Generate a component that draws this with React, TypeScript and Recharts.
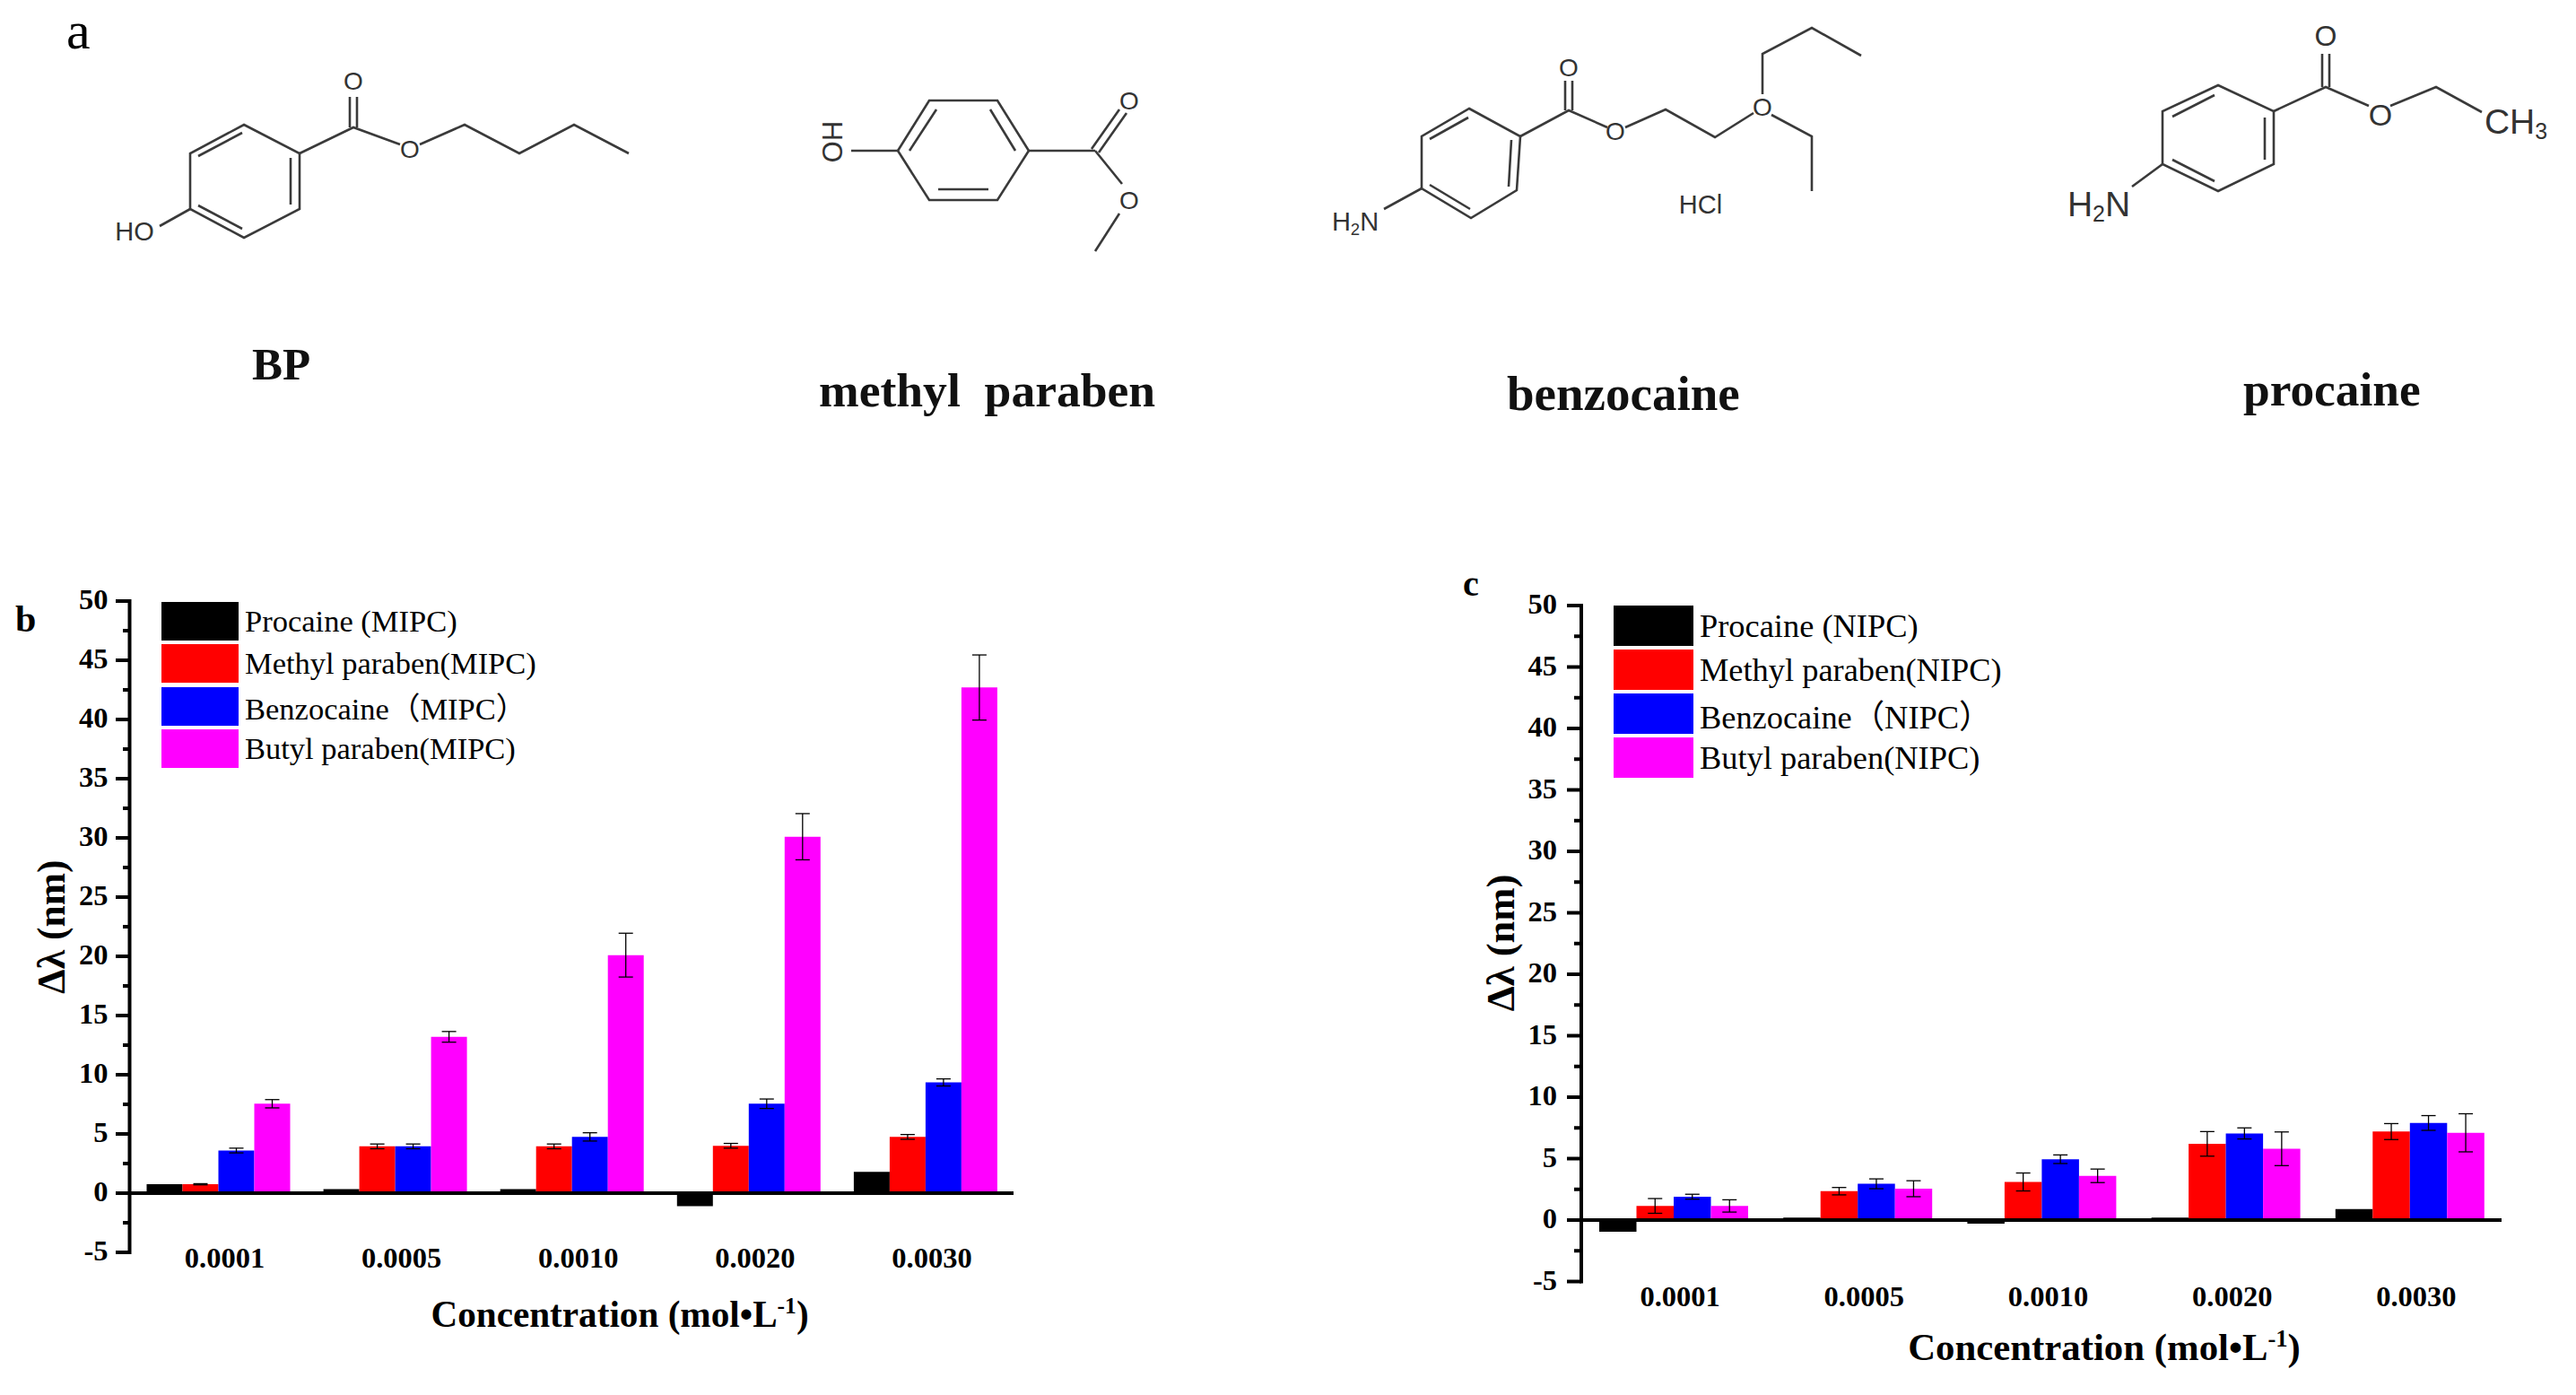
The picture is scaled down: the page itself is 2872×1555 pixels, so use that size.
import React from "react";
import { BarChart, Bar, XAxis, YAxis, ErrorBar, Legend, ReferenceLine } from "recharts";

const concentrations = ["0.0001", "0.0005", "0.0010", "0.0020", "0.0030"];
const yTicks = [-5, -2.5, 0, 2.5, 5, 7.5, 10, 12.5, 15, 17.5, 20, 22.5, 25, 27.5, 30, 32.5, 35, 37.5, 40, 42.5, 45, 47.5, 50];
const seriesColors = ["#000000", "#ff0000", "#0000ff", "#ff00ff"];

const mipcNames = ["Procaine (MIPC)", "Methyl paraben(MIPC)", "Benzocaine（MIPC）", "Butyl paraben(MIPC)"];
const mipcProcaine = [0.75, 0.35, 0.35, -1.1, 1.8];
const mipcMethyl = [0.75, 3.95, 3.95, 4.0, 4.75];
const mipcBenzocaine = [3.6, 3.95, 4.75, 7.55, 9.35];
const mipcButyl = [7.55, 13.2, 20.1, 30.1, 42.7];
const mipcMethylErr = [0.05, 0.2, 0.2, 0.2, 0.2];
const mipcBenzocaineErr = [0.2, 0.2, 0.35, 0.4, 0.3];
const mipcButylErr = [0.35, 0.45, 1.85, 1.95, 2.75];

const nipcNames = ["Procaine (NIPC)", "Methyl paraben(NIPC)", "Benzocaine（NIPC）", "Butyl paraben(NIPC)"];
const nipcProcaine = [-0.95, 0.2, -0.3, 0.2, 0.9];
const nipcMethyl = [1.15, 2.35, 3.1, 6.2, 7.2];
const nipcBenzocaine = [1.9, 2.95, 4.95, 7.05, 7.9];
const nipcButyl = [1.15, 2.55, 3.6, 5.8, 7.1];
const nipcMethylErr = [0.6, 0.3, 0.73, 1.0, 0.65];
const nipcBenzocaineErr = [0.2, 0.4, 0.35, 0.45, 0.6];
const nipcButylErr = [0.5, 0.65, 0.55, 1.37, 1.55];

const serif = '"Liberation Serif", "Noto Sans CJK SC", serif';
const sans = '"Liberation Sans", sans-serif';

function table(values: number[][], errors: (number[] | null)[]) {
  return concentrations.map((c, i) => {
    const row: any = { c };
    values.forEach((v, s) => {
      row["s" + s] = v[i];
      const e = errors[s];
      if (e) row["e" + s] = e[i];
    });
    return row;
  });
}

const mipcData = table([mipcProcaine, mipcMethyl, mipcBenzocaine, mipcButyl], [null, mipcMethylErr, mipcBenzocaineErr, mipcButylErr]);
const nipcData = table([nipcProcaine, nipcMethyl, nipcBenzocaine, nipcButyl], [null, nipcMethylErr, nipcBenzocaineErr, nipcButylErr]);

function Panel(p: any) {
  const yTick = (t: any) => {
    const v = t.payload.value;
    const major = v % 5 === 0;
    return (
      <g>
        <line x1={t.x} x2={t.x - (major ? p.majorTick : p.minorTick)} y1={t.y} y2={t.y} stroke="#000" strokeWidth={4} />
        {major ? (
          <text x={t.x - p.yLabelGap} y={t.y - 2} textAnchor="end" dominantBaseline="central" fontFamily={serif} fontWeight="bold" fontSize={32.5} fill="#000">
            {v}
          </text>
        ) : null}
      </g>
    );
  };
  const xTick = (t: any) => (
    <text x={t.x + 7.5} y={t.y + p.xLabelDy} textAnchor="middle" dominantBaseline="central" fontFamily={serif} fontWeight="bold" fontSize={32.5} fill="#000">
      {t.payload.value}
    </text>
  );
  const legend = (l: any) => (
    <div>
      {l.payload.map((it: any) => (
        <div key={it.value} style={{ display: "flex", alignItems: "center", height: p.legendPitch }}>
          <div style={{ width: p.swatchW, height: p.swatchH, background: it.color, flex: "none" }} />
          <span style={{ marginLeft: 7, fontFamily: serif, fontSize: p.legendFont, color: "#000", whiteSpace: "nowrap" }}>{it.value}</span>
        </div>
      ))}
    </div>
  );
  const xTitle = () => (
    <text x={p.xTitleX} y={p.xTitleY} textAnchor="middle" fontFamily={serif} fontWeight="bold" fontSize={p.titleFont} fill="#000">
      Concentration (mol•L<tspan dy={-15} fontSize={p.titleFont * 0.62}>-1</tspan>
      <tspan dy={15}>)</tspan>
    </text>
  );
  const yTitle = () => (
    <text x={p.yTitleX} y={p.yTitleY} textAnchor="middle" transform={`rotate(-90 ${p.yTitleX} ${p.yTitleY})`} fontFamily={serif} fontWeight="bold" fontSize={p.yTitleFont} fill="#000">
      Δλ (nm)
    </text>
  );
  return (
    <div style={{ position: "absolute", left: p.left, top: p.top }}>
      <BarChart width={p.width} height={p.height} data={p.data} margin={p.margin} barSize={p.barSize} barGap={0}>
        <XAxis dataKey="c" axisLine={false} tickLine={false} tickSize={0} tick={xTick} height={40} interval={0} label={xTitle as any} />
        <YAxis
          type="number"
          domain={[-5, 50]}
          ticks={yTicks}
          interval={0}
          width={60}
          tickSize={0}
          tickMargin={0}
          tickLine={false}
          axisLine={{ stroke: "#000", strokeWidth: 4, strokeLinecap: "square" }}
          tick={yTick}
          allowDecimals
          label={yTitle as any}
        />
        <Legend layout="vertical" align="center" verticalAlign="middle" itemSorter={null} content={legend} wrapperStyle={{ left: p.legendLeft, top: p.legendTop, width: 500 }} />
        {p.names.map((name: string, i: number) => (
          <Bar key={name} dataKey={"s" + i} name={name} fill={seriesColors[i]} isAnimationActive={false}>
            {i > 0 ? <ErrorBar dataKey={"e" + i} direction="y" width={8} stroke="#000" strokeWidth={1.3} isAnimationActive={false} /> : null}
          </Bar>
        ))}
        <ReferenceLine y={0} stroke="#000" strokeWidth={4} />
      </BarChart>
    </div>
  );
}

const bond = { fill: "none", stroke: "#3a3a3a", strokeWidth: 2.6 };

function Atom({ x, y, t, size = 28, rotate }: any) {
  return (
    <text x={x} y={y} textAnchor="middle" dominantBaseline="central" fontFamily={sans} fontSize={size} fill="#333" transform={rotate ? `rotate(${rotate} ${x} ${y})` : undefined}>
      {t}
    </text>
  );
}

function SubAtom({ x, y, a, sub, b, size = 29 }: any) {
  return (
    <text x={x} y={y} textAnchor="middle" dominantBaseline="central" fontFamily={sans} fontSize={size} fill="#333">
      {a}
      <tspan dy={size * 0.28} fontSize={size * 0.64}>{sub}</tspan>
      <tspan dy={-size * 0.28}>{b}</tspan>
    </text>
  );
}

function Molecules() {
  return (
    <svg width={2872} height={800} style={{ position: "absolute", left: 0, top: 0 }}>
      <text x={74} y={54} fontFamily={serif} fontSize={60} fill="#000">a</text>

      {/* BP */}
      <g transform="translate(-2 0)">
        <path {...bond} d="M274 139L336 171L336 233L274 265L214 233L214 171Z" />
        <path {...bond} d="M223 174L272 148M326 176L326 228M223 229L272 255" />
        <path {...bond} d="M336 171L396 142L448 161M470 161L520 139L581 171L642 139L703 171" />
        <path {...bond} d="M392 142V108M400 142V108M214 233L180 252" />
        <Atom x={396} y={90} t="O" />
        <Atom x={459} y={166} t="O" />
        <Atom x={152} y={258} t="HO" size={29} />
      </g>
      <text x={281} y={423} fontFamily={serif} fontWeight="bold" fontSize={51} fill="#111">BP</text>

      {/* methyl paraben */}
      <g transform="translate(-4 0)">
        <path {...bond} d="M1040 112L1116 112L1151 168L1116 223L1040 223L1005 168Z" />
        <path {...bond} d="M1048 122L1018 168M1108 122L1136 168M1050 211H1106" />
        <path {...bond} d="M953 168H1005M1151 168H1225M1225 168L1255 205M1252 238L1225 280M1221 166L1252 122M1229 170L1260 126" />
        <Atom x={931} y={158} t="HO" size={31} rotate={90} />
        <Atom x={1263} y={112} t="O" />
        <Atom x={1263} y={223} t="O" />
      </g>
      <text x={913} y={453} fontFamily={serif} fontWeight="bold" fontSize={53.6} fill="#111" xmlSpace="preserve">methyl  paraben</text>

      {/* benzocaine label */}
      <g transform="translate(-3 0)">
        <path {...bond} d="M1641 121L1698 152L1694 212L1643 243L1588 210L1588 152Z" />
        <path {...bond} d="M1597 155L1640 131M1688 156L1685 208M1597 206L1642 233" />
        <path {...bond} d="M1698 152L1752 123L1795 142M1815 142L1860 122L1915 153L1958 126M1978 128L2023 152V213M1968 105V60L2023 31L2078 62" />
        <path {...bond} d="M1748 123V90M1756 123V90M1588 210L1546 233" />
        <Atom x={1752} y={75} t="O" />
        <Atom x={1804} y={146} t="O" />
        <Atom x={1968} y={119} t="O" />
        <Atom x={1899} y={228} t="HCl" size={29} />
        <SubAtom x={1514} y={247} a="H" sub="2" b="N" />
      </g>
      <text x={1680} y={457} fontFamily={serif} fontWeight="bold" fontSize={55} fill="#111">benzocaine</text>

      {/* procaine label */}
      <g transform="translate(-7 0)">
        <path {...bond} d="M2480 95L2542 124L2542 183L2480 213L2418 183L2418 124Z" />
        <path {...bond} d="M2429 130L2476 106M2532 131L2532 178M2429 178L2476 202" />
        <path {...bond} d="M2542 124L2600 97L2648 118M2672 118L2723 97L2774 125" />
        <path {...bond} d="M2596 97V60M2604 97V60M2418 183L2384 208" />
        <Atom x={2600} y={40} t="O" size={32} />
        <Atom x={2661} y={128} t="O" size={34} />
        <SubAtom x={2812} y={135} a="CH" sub="3" b="" size={39} />
        <SubAtom x={2347} y={227} a="H" sub="2" b="N" size={39} />
      </g>
      <text x={2501} y={452} fontFamily={serif} fontWeight="bold" fontSize={53.4} fill="#111">procaine</text>

      <text x={17} y={704} fontFamily={serif} fontWeight="bold" fontSize={42} fill="#000">b</text>
      <text x={1631} y={664} fontFamily={serif} fontWeight="bold" fontSize={40} fill="#000">c</text>
    </svg>
  );
}

export default function App() {
  return (
    <div style={{ position: "absolute", left: 0, top: 0, width: 2872, height: 1555, background: "#fff", overflow: "hidden" }}>
      <Molecules />
      <Panel
        left={0} top={640} width={1200} height={915}
        margin={{ top: 30, right: 70, bottom: 119, left: 84.5 }}
        data={mipcData} names={mipcNames} barSize={40}
        majorTick={15.5} minorTick={7.5} yLabelGap={24} xLabelDy={4}
        legendLeft={180} legendTop={29} legendPitch={47.3} swatchW={86} swatchH={43} legendFont={34.5}
        titleFont={41.2} yTitleFont={43.6} xTitleX={691} xTitleY={839} yTitleX={72} yTitleY={393}
      />
      <Panel
        left={1620} top={630} width={1252} height={925}
        margin={{ top: 45, right: 83, bottom: 86.5, left: 83 }}
        data={nipcData} names={nipcNames} barSize={41.5}
        majorTick={16} minorTick={8} yLabelGap={27} xLabelDy={14}
        legendLeft={179} legendTop={43} legendPitch={49} swatchW={89} swatchH={45} legendFont={36.4}
        titleFont={42.8} yTitleFont={44.6} xTitleX={726} xTitleY={886} yTitleX={68} yTitleY={421}
      />
    </div>
  );
}
